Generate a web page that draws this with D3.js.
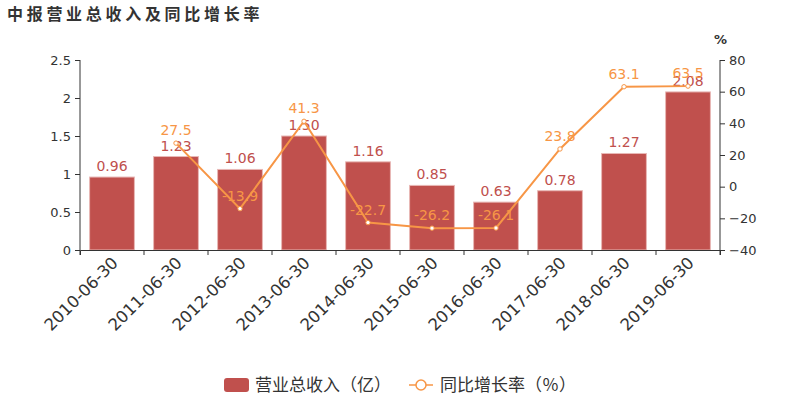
<!DOCTYPE html>
<html><head><meta charset="utf-8">
<script src="https://cdn.jsdelivr.net/npm/d3@7/dist/d3.min.js"></script>
<style>body{margin:0;background:#fff;font-family:"DejaVu Sans","Noto Sans CJK SC",sans-serif;}</style>
</head><body><svg id="c" width="800" height="400"></svg>
<script>
const categories = ["2010-06-30","2011-06-30","2012-06-30","2013-06-30","2014-06-30","2015-06-30","2016-06-30","2017-06-30","2018-06-30","2019-06-30"];
const revenue = [0.96,1.23,1.06,1.50,1.16,0.85,0.63,0.78,1.27,2.08];
const revenueLabels = ["0.96","1.23","1.06","1.50","1.16","0.85","0.63","0.78","1.27","2.08"];
const growth = [null,27.5,-13.9,41.3,-22.7,-26.2,-26.1,23.8,63.1,63.5];
const leftTicks = [0,0.5,1,1.5,2,2.5];
const rightTicks = [-40,-20,0,20,40,60,80];

const svg = d3.select("#c");
const font = '"DejaVu Sans","Noto Sans CJK SC",sans-serif';
const cjk = '"Noto Sans CJK SC","DejaVu Sans",sans-serif';
const L=80,R=720,T=60,B=250;
const barColor="#c0504d", lineColor="#f79646";

svg.append("text").attr("x",7).attr("y",20).text("中报营业总收入及同比增长率")
  .attr("font-family",cjk).attr("font-size",16).attr("font-weight","bold")
  .attr("letter-spacing",3.7).attr("fill","#333");

const x = d3.scaleBand().domain(categories).range([L,R]).paddingInner(0.3).paddingOuter(0.15);
const xb = d3.scaleBand().domain(categories).range([L,R]);
const y = d3.scaleLinear().domain([0,2.5]).range([B,T]);
const y2 = d3.scaleLinear().domain([-40,80]).range([B,T]);

// bars
svg.append("g").selectAll("rect").data(revenue).join("rect")
  .attr("x",(d,i)=>x(categories[i])).attr("width",x.bandwidth())
  .attr("y",d=>y(d)).attr("height",d=>B-y(d))
  .attr("fill",barColor).attr("stroke","#e8b8b6").attr("stroke-width",1);

// axes
const axL = svg.append("g").attr("transform",`translate(${L},0)`)
  .call(d3.axisLeft(y).tickValues(leftTicks).tickFormat(d3.format("")).tickSize(5).tickPadding(4));
const axR = svg.append("g").attr("transform",`translate(${R},0)`)
  .call(d3.axisRight(y2).tickValues(rightTicks).tickSize(5).tickPadding(4));
const axB = svg.append("g").attr("transform",`translate(0,${B})`)
  .call(d3.axisBottom(xb).tickSize(5).tickSizeOuter(5).tickFormat(""));
axB.selectAll(".tick").remove();
svg.append("g").selectAll("line").data(categories.concat(["end"])).join("line")
  .attr("x1",(d,i)=>L+i*xb.bandwidth()).attr("x2",(d,i)=>L+i*xb.bandwidth())
  .attr("y1",B).attr("y2",B+5).attr("stroke","#333");
[axL,axR,axB].forEach(a=>{
  a.selectAll(".domain").attr("stroke","#333");
  a.selectAll(".tick line").attr("stroke","#333");
  a.selectAll("text").attr("font-family",font).attr("font-size",13).attr("fill","#333");
});
axL.select(".domain").attr("d",`M0,${T}V${B}`);
axR.select(".domain").attr("d",`M0,${T}V${B}`);

// x labels
svg.append("g").selectAll("text").data(categories).join("text")
  .attr("transform",(d,i)=>`translate(${xb(d)+xb.bandwidth()/2+7},${B+14}) rotate(-45)`)
  .attr("text-anchor","end").attr("font-family",font).attr("font-size",16.5).attr("fill","#333")
  .text(d=>d);

svg.append("text").attr("x",714).attr("y",44).text("%").attr("font-family",font)
  .attr("font-size",13).attr("font-weight","bold").attr("fill","#333");

// bar labels
svg.append("g").selectAll("text").data(revenue).join("text")
  .attr("x",(d,i)=>x(categories[i])+x.bandwidth()/2).attr("y",d=>y(d)-6)
  .attr("text-anchor","middle").attr("font-family",font).attr("font-size",14).attr("fill",barColor)
  .text((d,i)=>revenueLabels[i]);

// line
const pts = growth.map((g,i)=>({g,c:categories[i]})).filter(d=>d.g!==null);
const cx = d=>xb(d.c)+xb.bandwidth()/2;
svg.append("path").datum(pts).attr("d",d3.line().x(cx).y(d=>y2(d.g)))
  .attr("fill","none").attr("stroke",lineColor).attr("stroke-width",2);
svg.append("g").selectAll("circle").data(pts).join("circle")
  .attr("cx",cx).attr("cy",d=>y2(d.g)).attr("r",2.2)
  .attr("fill","#fff").attr("stroke",lineColor).attr("stroke-width",1);
svg.append("g").selectAll("text").data(pts).join("text")
  .attr("x",cx).attr("y",d=>y2(d.g)-8).attr("text-anchor","middle")
  .attr("font-family",font).attr("font-size",14).attr("fill",lineColor).text(d=>d.g.toFixed(1));

// legend
const lg = svg.append("g");
lg.append("rect").attr("x",224).attr("y",378).attr("width",25).attr("height",14).attr("rx",3).attr("fill",barColor);
lg.append("text").attr("x",255).attr("y",391).text("营业总收入（亿）").attr("font-family",cjk).attr("font-size",17).attr("fill","#333");
lg.append("line").attr("x1",409).attr("x2",433).attr("y1",385).attr("y2",385).attr("stroke",lineColor).attr("stroke-width",1.5);
lg.append("circle").attr("cx",421).attr("cy",385).attr("r",5).attr("fill","#fff").attr("stroke",lineColor).attr("stroke-width",1.5);
lg.append("text").attr("x",440).attr("y",391).text("同比增长率（％）").attr("font-family",cjk).attr("font-size",17).attr("fill","#333");
</script></body></html>
